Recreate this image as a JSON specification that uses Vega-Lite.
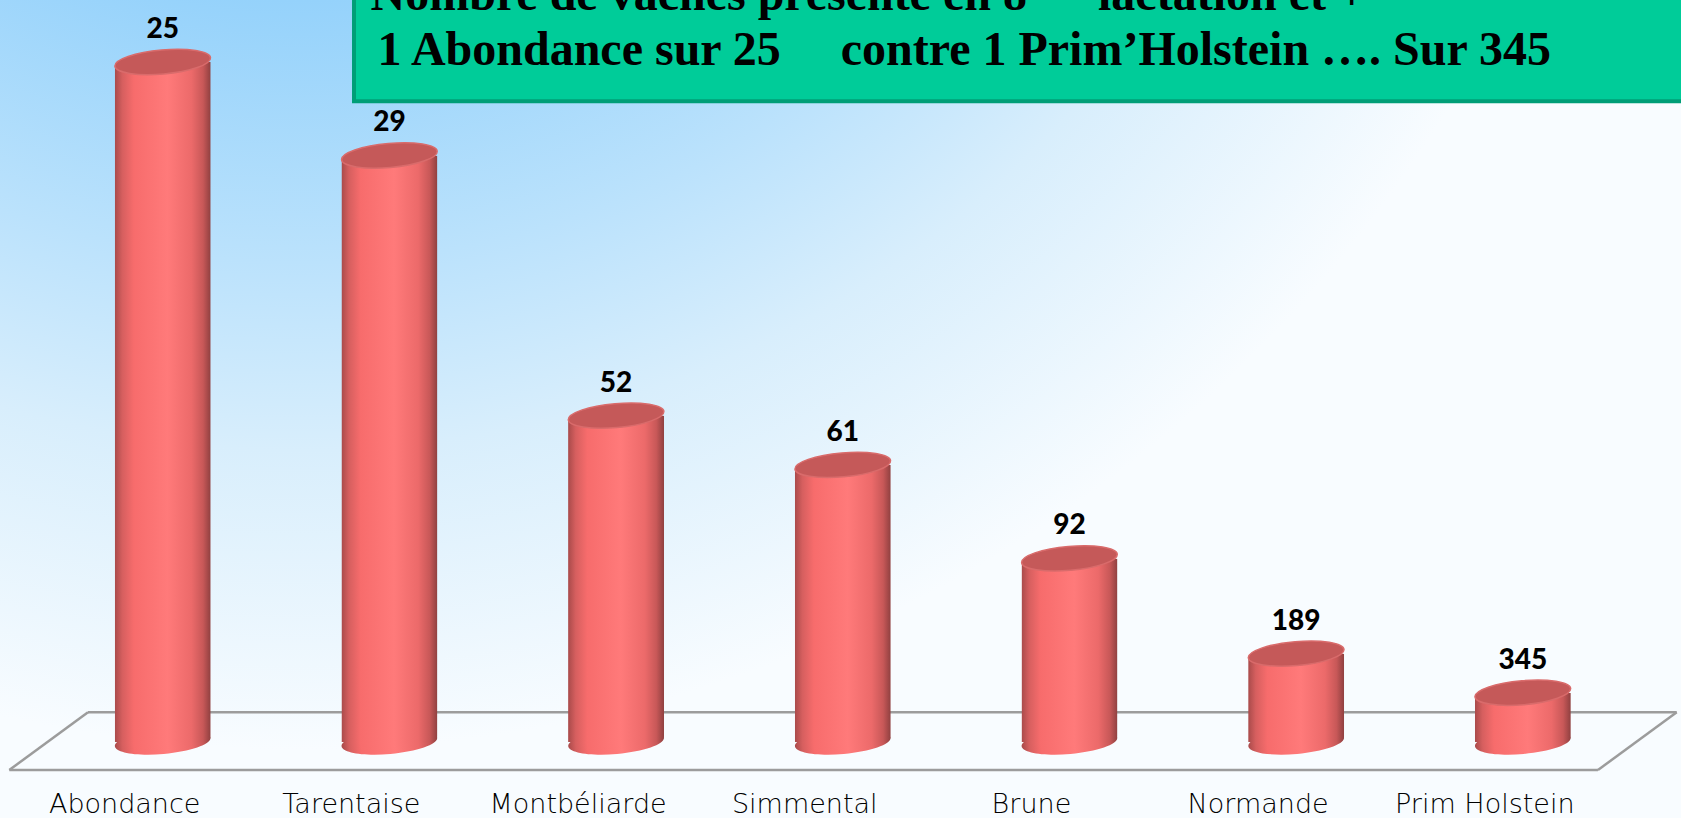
{
  "$schema": "https://vega.github.io/schema/vega-lite/v6.json",
  "width": 1681,
  "height": 818,
  "autosize": "none",
  "padding": 0,
  "background": "#ffffff",
  "config": {"view": {"stroke": null}},
  "datasets": {
    "breeds": [
      {"breed": "Abondance", "n": 25, "pct": 4.00},
      {"breed": "Tarentaise", "n": 29, "pct": 3.45},
      {"breed": "Montbéliarde", "n": 52, "pct": 1.92},
      {"breed": "Simmental", "n": 61, "pct": 1.63},
      {"breed": "Brune", "n": 92, "pct": 1.08},
      {"breed": "Normande", "n": 189, "pct": 0.52},
      {"breed": "Prim Holstein", "n": 345, "pct": 0.29}
    ]
  },
  "layer": [
    {
      "data": {"values": [{}]},
      "layer": [
        {
          "mark": {
            "type": "rect",
            "fill": {
              "gradient": "radial",
              "x1": 0.1785, "y1": -0.1002, "r1": 0.357,
              "x2": 0.1785, "y2": -0.1002, "r2": 0.803,
              "stops": [
                {"offset": 0, "color": "#95d2fb"},
                {"offset": 0.35, "color": "#bbe2fc"},
                {"offset": 0.6, "color": "#d8eefc"},
                {"offset": 1, "color": "#f8fcff"}
              ]
            }
          },
          "encoding": {
            "x": {"datum": 0, "type": "quantitative", "scale": {"domain": [0, 1], "nice": false, "zero": false}, "axis": null},
            "x2": {"datum": 1},
            "y": {"datum": -0.4471, "type": "quantitative", "scale": {"domain": [-0.4471, 4.3647], "nice": false, "zero": false}, "axis": null},
            "y2": {"datum": 4.3647}
          }
        },
        {
          "mark": {"type": "rule", "stroke": "#9c9c9c", "strokeWidth": 2.5},
          "encoding": {
            "x": {"datum": 0.05235, "type": "quantitative", "scale": {"domain": [0, 1], "nice": false, "zero": false}, "axis": null},
            "x2": {"datum": 0.99744},
            "y": {"datum": 0.1747, "type": "quantitative", "scale": {"domain": [-0.4471, 4.3647], "nice": false, "zero": false}, "axis": null},
            "y2": {"datum": 0.1747}
          }
        },
        {
          "mark": {"type": "rule", "stroke": "#9c9c9c", "strokeWidth": 2.5},
          "encoding": {
            "x": {"datum": 0.00553, "type": "quantitative", "scale": {"domain": [0, 1], "nice": false, "zero": false}, "axis": null},
            "x2": {"datum": 0.9506},
            "y": {"datum": -0.1647, "type": "quantitative", "scale": {"domain": [-0.4471, 4.3647], "nice": false, "zero": false}, "axis": null},
            "y2": {"datum": -0.1647}
          }
        },
        {
          "mark": {"type": "rule", "stroke": "#9c9c9c", "strokeWidth": 2.5},
          "encoding": {
            "x": {"datum": 0.00553, "type": "quantitative", "scale": {"domain": [0, 1], "nice": false, "zero": false}, "axis": null},
            "x2": {"datum": 0.05235},
            "y": {"datum": -0.1647, "type": "quantitative", "scale": {"domain": [-0.4471, 4.3647], "nice": false, "zero": false}, "axis": null},
            "y2": {"datum": 0.1747}
          }
        },
        {
          "mark": {"type": "rule", "stroke": "#9c9c9c", "strokeWidth": 2.5},
          "encoding": {
            "x": {"datum": 0.9506, "type": "quantitative", "scale": {"domain": [0, 1], "nice": false, "zero": false}, "axis": null},
            "x2": {"datum": 0.99744},
            "y": {"datum": -0.1647, "type": "quantitative", "scale": {"domain": [-0.4471, 4.3647], "nice": false, "zero": false}, "axis": null},
            "y2": {"datum": 0.1747}
          }
        },
        {
          "mark": {"type": "rect", "fill": "#00cc99", "stroke": "#009e77", "strokeWidth": 4},
          "encoding": {
            "x": {"datum": 0.2106, "type": "quantitative", "scale": {"domain": [0, 1], "nice": false, "zero": false}, "axis": null},
            "x2": {"datum": 1.02},
            "y": {"datum": 3.769, "type": "quantitative", "scale": {"domain": [-0.4471, 4.3647], "nice": false, "zero": false}, "axis": null},
            "y2": {"datum": 4.8}
          }
        },
        {
          "mark": {"type": "text", "text": "Nombre de vaches présente en 8", "align": "right", "baseline": "alphabetic", "font": "Liberation Serif", "fontWeight": "bold", "fontSize": 48, "color": "#000000"},
          "encoding": {
            "x": {"datum": 0.6109, "type": "quantitative", "scale": {"domain": [0, 1], "nice": false, "zero": false}, "axis": null},
            "y": {"datum": 4.3059, "type": "quantitative", "scale": {"domain": [-0.4471, 4.3647], "nice": false, "zero": false}, "axis": null}
          }
        },
        {
          "mark": {"type": "text", "text": "ème", "align": "left", "baseline": "alphabetic", "font": "Liberation Serif", "fontWeight": "bold", "fontSize": 31, "color": "#000000"},
          "encoding": {
            "x": {"datum": 0.6122, "type": "quantitative", "scale": {"domain": [0, 1], "nice": false, "zero": false}, "axis": null},
            "y": {"datum": 4.40, "type": "quantitative", "scale": {"domain": [-0.4471, 4.3647], "nice": false, "zero": false}, "axis": null}
          }
        },
        {
          "mark": {"type": "text", "text": "lactation et +", "align": "left", "baseline": "alphabetic", "font": "Liberation Serif", "fontWeight": "bold", "fontSize": 48, "color": "#000000"},
          "encoding": {
            "x": {"datum": 0.6532, "type": "quantitative", "scale": {"domain": [0, 1], "nice": false, "zero": false}, "axis": null},
            "y": {"datum": 4.3059, "type": "quantitative", "scale": {"domain": [-0.4471, 4.3647], "nice": false, "zero": false}, "axis": null}
          }
        },
        {
          "mark": {"type": "text", "text": "1 Abondance sur 25\u00a0\u00a0\u00a0\u00a0\u00a0contre 1 Prim’Holstein …. Sur 345", "align": "left", "baseline": "alphabetic", "font": "Liberation Serif", "fontWeight": "bold", "fontSize": 48, "color": "#000000"},
          "encoding": {
            "x": {"datum": 0.2246, "type": "quantitative", "scale": {"domain": [0, 1], "nice": false, "zero": false}, "axis": null},
            "y": {"datum": 3.9824, "type": "quantitative", "scale": {"domain": [-0.4471, 4.3647], "nice": false, "zero": false}, "axis": null}
          }
        }
      ]
    },
    {
      "data": {"name": "breeds"},
      "encoding": {
        "x": {
          "field": "breed",
          "type": "nominal",
          "sort": null,
          "scale": {
            "domain": ["Abondance", "Tarentaise", "Montbéliarde", "Simmental", "Brune", "Normande", "Prim Holstein"],
            "paddingInner": 0.5765,
            "paddingOuter": 0.496,
            "align": 0.51
          },
          "axis": {
            "title": null,
            "zindex": 2,
            "labelAngle": 0,
            "labelFont": "DejaVu Sans",
            "labelFontSize": 27,
            "labelFontWeight": 200,
            "labelColor": "#000000",
            "labelOffset": -38,
            "labelBaseline": "alphabetic",
            "labelPadding": -6,
            "ticks": false,
            "tickSize": 0,
            "domain": false,
            "grid": false
          }
        }
      },
      "layer": [
        {
          "mark": {
            "type": "point",
            "shape": "M -1 0 A 1 0.25 0 1 0 1 0 A 1 0.25 0 1 0 -1 0 Z",
            "size": 9216,
            "filled": true,
            "opacity": 1,
            "angle": -5,
            "strokeWidth": 0,
            "fill": {
              "gradient": "linear", "x1": 0, "y1": 0, "x2": 1, "y2": 0,
              "stops": [
                {"offset": 0, "color": "#a84a4a"},
                {"offset": 0.08, "color": "#d65f5f"},
                {"offset": 0.2, "color": "#f76c6c"},
                {"offset": 0.55, "color": "#ff7a7a"},
                {"offset": 0.8, "color": "#ec6a6a"},
                {"offset": 0.92, "color": "#c85858"},
                {"offset": 1, "color": "#8f4040"}
              ]
            }
          },
          "encoding": {
            "y": {"datum": 0, "type": "quantitative", "scale": {"domain": [-0.4471, 4.3647], "nice": false, "zero": false}, "axis": null}
          }
        },
        {
          "mark": {
            "type": "bar",
            "cornerRadiusTopLeft": 6,
            "cornerRadiusBottomRight": 6,
            "fill": {
              "gradient": "linear", "x1": 0, "y1": 0, "x2": 1, "y2": 0,
              "stops": [
                {"offset": 0, "color": "#a84a4a"},
                {"offset": 0.08, "color": "#d65f5f"},
                {"offset": 0.2, "color": "#f76c6c"},
                {"offset": 0.55, "color": "#ff7a7a"},
                {"offset": 0.8, "color": "#ec6a6a"},
                {"offset": 0.92, "color": "#c85858"},
                {"offset": 1, "color": "#8f4040"}
              ]
            }
          },
          "encoding": {
            "y": {"field": "pct", "type": "quantitative", "scale": {"domain": [-0.4471, 4.3647], "nice": false, "zero": false}, "axis": null}
          }
        },
        {
          "mark": {
            "type": "point",
            "shape": "M -1 0 A 1 0.25 0 1 0 1 0 A 1 0.25 0 1 0 -1 0 Z",
            "size": 9216,
            "filled": true,
            "opacity": 1,
            "angle": -5,
            "fill": "#c55959",
            "stroke": "#d96b6b",
            "strokeWidth": 1.5
          },
          "encoding": {
            "y": {"field": "pct", "type": "quantitative", "scale": {"domain": [-0.4471, 4.3647], "nice": false, "zero": false}, "axis": null}
          }
        },
        {
          "mark": {"type": "text", "font": "Lato", "fontWeight": 900, "fontSize": 28, "dy": -24, "baseline": "alphabetic", "align": "center", "color": "#000000"},
          "encoding": {
            "y": {"field": "pct", "type": "quantitative", "scale": {"domain": [-0.4471, 4.3647], "nice": false, "zero": false}, "axis": null},
            "text": {"field": "n", "type": "quantitative"}
          }
        }
      ]
    }
  ],
  "resolve": {"scale": {"x": "independent"}, "axis": {"x": "independent"}}
}
